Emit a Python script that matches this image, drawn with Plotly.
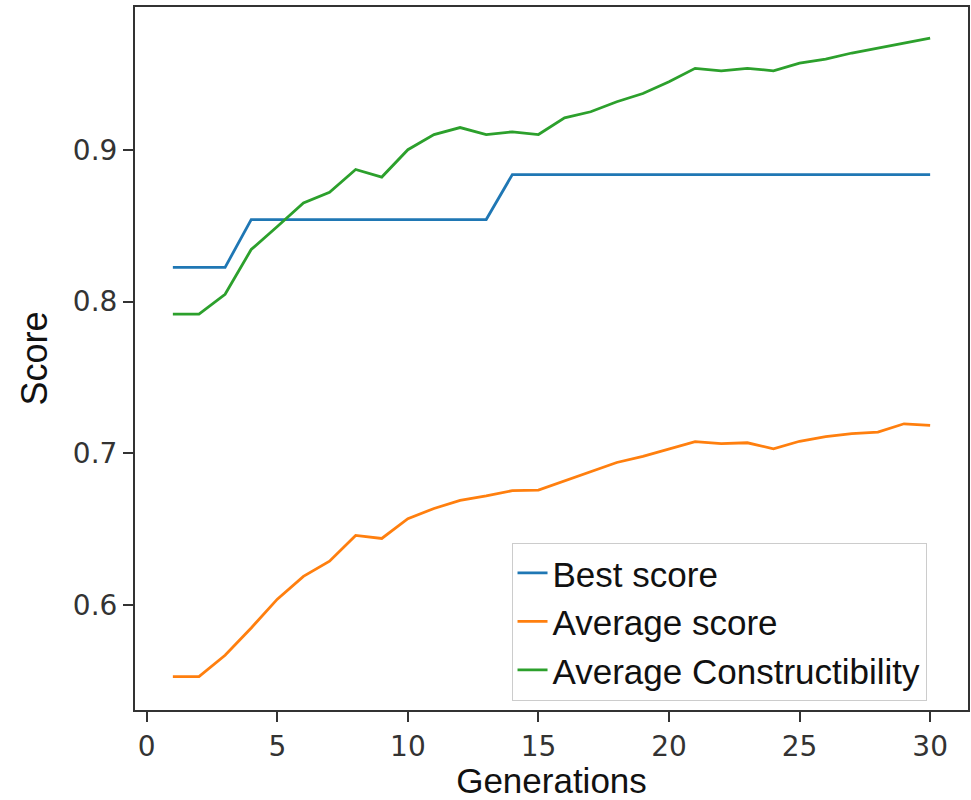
import plotly.graph_objects as go

generations = list(range(1, 31))
best_score = [0.8225, 0.8225, 0.8225] + [0.854] * 10 + [0.8836] * 17
average_score = [0.553, 0.553, 0.567, 0.585, 0.604, 0.619, 0.629, 0.646, 0.644, 0.657,
                 0.6637, 0.669, 0.672, 0.6755, 0.6758, 0.682, 0.688, 0.694, 0.698, 0.703,
                 0.7077, 0.7064, 0.707, 0.703, 0.708, 0.711, 0.713, 0.714, 0.7195, 0.7185]
average_constructibility = [0.7917, 0.7917, 0.8048, 0.8343, 0.8494, 0.865, 0.872, 0.887, 0.882, 0.900,
                            0.910, 0.9146, 0.910, 0.9118, 0.910, 0.921, 0.925, 0.9316, 0.937, 0.9447,
                            0.9536, 0.952, 0.9536, 0.952, 0.957, 0.9597, 0.9637, 0.967, 0.970, 0.9735]

series = [
    ("Best score", best_score, "#1f77b4"),
    ("Average score", average_score, "#ff7f0e"),
    ("Average Constructibility", average_constructibility, "#2ca02c"),
]

fig = go.Figure()
for name, vals, color in series:
    fig.add_trace(go.Scatter(x=generations, y=vals, mode="lines", name=name,
                             line=dict(color=color, width=2.8)))

axis_common = dict(showline=True, linecolor="#333333", linewidth=2, mirror=True,
                   ticks="outside", ticklen=10, tickwidth=2, tickcolor="#333333",
                   showgrid=False, zeroline=False,
                   tickfont=dict(family="DejaVu Sans", size=28, color="#333333"))

fig.update_layout(
    width=971, height=800,
    margin=dict(l=135, r=3, t=7, b=88),
    paper_bgcolor="white", plot_bgcolor="white",
    xaxis=dict(range=[-0.45, 31.45], tickvals=[0, 5, 10, 15, 20, 25, 30], automargin=True,
               title=dict(text="Generations", font=dict(family="Liberation Sans", size=35, color="#111111"),
                          standoff=10),
               **axis_common),
    yaxis=dict(range=[0.531, 0.994], tickvals=[0.6, 0.7, 0.8, 0.9], tickformat=".1f", automargin=False,
               title=dict(text="Score", font=dict(family="Liberation Sans", size=36, color="#111111"),
                          standoff=14),
               **axis_common),
    legend=dict(x=0.452, y=0.238, xanchor="left", yanchor="top",
                bgcolor="white", bordercolor="#cccccc", borderwidth=1,
                font=dict(family="Liberation Sans", size=35, color="#111111"),
                tracegroupgap=0),
    showlegend=True,
)

# remove the browser's default 8px body margin so the 971x800 figure fills the window exactly
fig.write_html("out.html",
               config={"displayModeBar": False},
               post_script="document.body.style.margin='0';"
                           "document.documentElement.style.overflow='hidden';")
